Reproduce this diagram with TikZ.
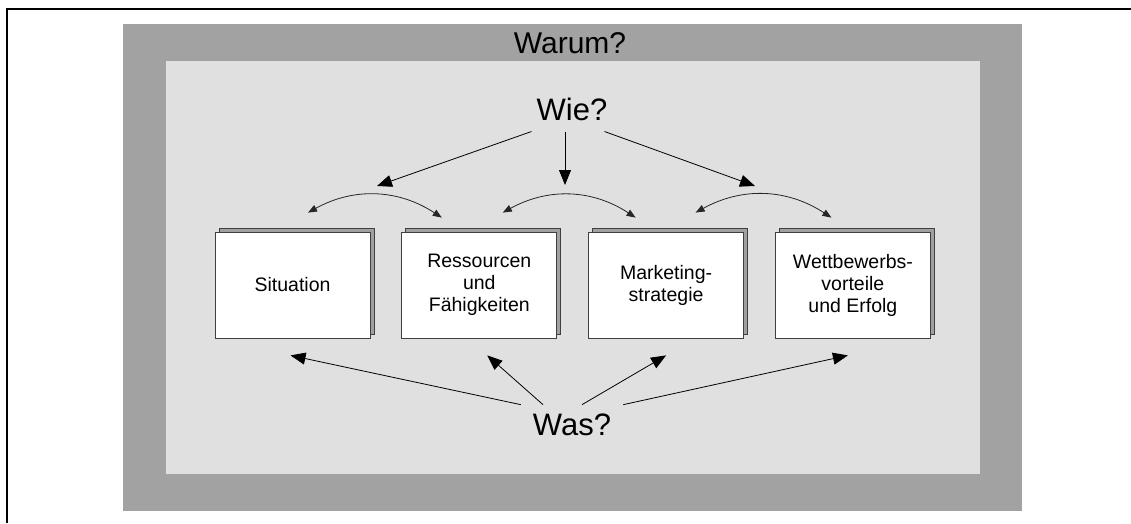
\documentclass[tikz,border=0pt]{standalone}
\usepackage{fontspec}
\setmainfont{Liberation Sans}
\usepackage{xcolor}
\definecolor{frameGray}{RGB}{162,162,162}
\definecolor{panelGray}{RGB}{224,224,224}
\definecolor{sheetGray}{RGB}{160,160,160}
\usepackage{tikz}
\usetikzlibrary{arrows.meta,positioning,shadows}
\tikzstyle{stackbox}=[draw=black!75, line width=0.8pt, fill=white, minimum width=155pt, minimum height=106pt, align=center, font=\fontsize{19.5}{22}\selectfont, copy shadow={shadow xshift=4pt, shadow yshift=4pt, opacity=1, fill=sheetGray, draw=black!75}]
\tikzstyle{question}=[font=\fontsize{31}{36}\selectfont, anchor=base]
\tikzstyle{bigarrow}=[-{Triangle[length=15pt,width=12pt]}, line width=0.8pt]
\tikzstyle{linkarrow}=[{Triangle[length=9pt,width=7pt]}-{Triangle[length=9pt,width=7pt]}, line width=0.8pt, color=black!85]

\begin{document}
\begin{tikzpicture}[x=1pt, y=1pt]
    \useasboundingbox (0,0) rectangle (1131,523);
    % Rahmen und Flaechen
    \draw[line width=2pt] (7,0) -- (7,514) -- (1131,514);
    \fill[frameGray] (123,12) rectangle (1022,499);
    \fill[panelGray] (166,49) rectangle (980,462);

    % Fragen
    \node[question, font=\fontsize{30}{36}\selectfont] (warum) at (570,469) {Warum?};
    \node[question, inner xsep=5pt, inner ysep=10pt] (wie) at (572,402) {Wie?};
    \node[question, inner xsep=12pt, inner ysep=8.5pt] (was) at (572,88) {Was?};

    % Kaestchen
    \node[stackbox] (sit) at (292.5,238) {Situation};
    \node[stackbox, right=31pt of sit] (res) {Ressourcen\\und\\Fähigkeiten};
    \node[stackbox, right=31pt of res] (mkt) {Marketing-\\strategie};
    \node[stackbox, right=31pt of mkt] (wtb) {Wettbewerbs-\\vorteile\\und Erfolg};

    % Pfeile von Wie?
    \coordinate (tipL) at (377,337);
    \coordinate (tipM) at (565,338);
    \coordinate (tipR) at (755,337);
    \draw[bigarrow] (wie.south west) -- (tipL);
    \draw[bigarrow] ([xshift=-7pt]wie.south) -- (tipM);
    \draw[bigarrow] ([xshift=-8pt]wie.south east) -- (tipR);

    % Boegen zwischen den Kaestchen
    \foreach \a/\b/\dl/\dr in {sit/res/15.5/-37.5, res/mkt/23.5/-30.5, mkt/wtb/29.5/-21.5} {
      \draw[linkarrow] ([xshift=\dl pt, yshift=19pt]\a.north) to[bend left=31] ([xshift=\dr pt, yshift=14pt]\b.north);
    }

    % Pfeile von Was?
    \draw[bigarrow] (was.north west) -- ([xshift=-2pt, yshift=-17pt]sit.south);
    \draw[bigarrow] ([xshift=-29pt]was.north) -- ([xshift=8pt, yshift=-17pt]res.south);
    \draw[bigarrow] ([xshift=10pt]was.north) -- ([yshift=-17pt]mkt.south);
    \draw[bigarrow] (was.north east) -- ([xshift=-5pt, yshift=-17pt]wtb.south);
\end{tikzpicture}
\end{document}
